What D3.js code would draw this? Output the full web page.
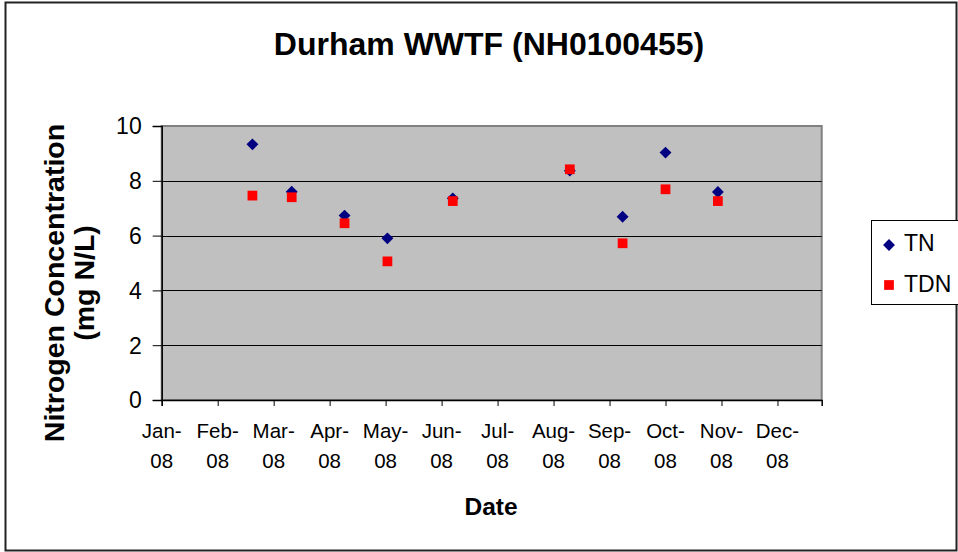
<!DOCTYPE html>
<html>
<head>
<meta charset="utf-8">
<script src="https://cdn.jsdelivr.net/npm/d3@7"></script>
<style>
  body { margin: 0; background: #fff; }
  svg text { font-family: "Liberation Sans", Arial, sans-serif; fill: #000; }
</style>
</head>
<body>
<svg id="chart" width="958" height="552"></svg>
<script>
////////// dados
const sampleDates = ['2008-02-19','2008-03-11','2008-04-09','2008-05-02','2008-06-07','2008-08-10','2008-09-08','2008-10-01','2008-10-30'];
const tnValues  = [9.33, 7.60, 6.73, 5.90, 7.36, 8.37, 6.69, 9.03, 7.59];
const tdnValues = [7.46, 7.40, 6.45, 5.06, 7.26, 8.42, 5.72, 7.69, 7.26];
const monthLabels = ['Jan','Feb','Mar','Apr','May','Jun','Jul','Aug','Sep','Oct','Nov','Dec'];
const yTicks = [0, 2, 4, 6, 8, 10];

// posicao em meses (eixo do Excel tem meses igualmente espacados)
function monthPos(s) {
  const d = new Date(s + 'T00:00:00');
  const dim = new Date(d.getFullYear(), d.getMonth() + 1, 0).getDate();
  return d.getMonth() + (d.getDate() - 1) / dim;
}

const svg = d3.select('#chart');

const plot = { left: 161.7, right: 821.7, top: 126, bottom: 400 };

let x = d3.scaleLinear()
  .domain([0, 11.79])
  .range([plot.left, plot.right]);

let y = d3.scaleLinear()
  .domain([0, 10])
  .range([plot.bottom, plot.top]);

// moldura externa
svg.append('rect')
  .attr('x', 5.5).attr('y', 2.5)
  .attr('width', 951).attr('height', 548)
  .attr('fill', '#fff')
  .attr('stroke', '#222')
  .attr('stroke-width', 2);

// area do grafico
svg.append('rect')
  .attr('x', plot.left).attr('y', plot.top)
  .attr('width', plot.right - plot.left).attr('height', plot.bottom - plot.top)
  .attr('fill', '#c0c0c0')
  .attr('stroke', '#808080')
  .attr('stroke-width', 2);

// linhas de grade
svg.append('g')
  .selectAll('line')
  .data(yTicks.filter(v => v > 0 && v < 10))
  .join('line')
  .attr('x1', plot.left).attr('x2', plot.right)
  .attr('y1', d => Math.round(y(d)) + 0.5).attr('y2', d => Math.round(y(d)) + 0.5)
  .attr('stroke', '#000')
  .attr('stroke-width', 1);

// eixo y
const yAxis = svg.append('g')
  .attr('transform', `translate(${plot.left},0)`)
  .call(d3.axisLeft(y).tickValues(yTicks).tickSize(9).tickPadding(11));
yAxis.select('.domain').attr('stroke', '#000').attr('stroke-width', 1.5);
yAxis.selectAll('.tick line').attr('stroke', '#000');
yAxis.selectAll('.tick text')
  .attr('font-size', 23)
  .attr('dy', '0.34em');

// eixo x
const xAxis = svg.append('g')
  .attr('transform', `translate(0,${plot.bottom})`)
  .call(d3.axisBottom(x).tickValues(d3.range(12)).tickSize(6).tickFormat(''));
xAxis.select('.domain').attr('stroke', '#000').attr('stroke-width', 1.5);
xAxis.selectAll('.tick line').attr('stroke', '#000');

const xLabels = svg.append('g')
  .selectAll('text')
  .data(monthLabels)
  .join('text')
  .attr('x', (d, i) => x(i))
  .attr('text-anchor', 'middle')
  .attr('font-size', 20.5);
xLabels.append('tspan').attr('x', (d, i) => x(i)).attr('y', 438).text(d => d + '-');
xLabels.append('tspan').attr('x', (d, i) => x(i)).attr('y', 468).text('08');

// titulos
svg.append('text')
  .attr('x', 489).attr('y', 54.5)
  .attr('text-anchor', 'middle')
  .attr('font-size', 32)
  .attr('font-weight', 'bold')
  .text('Durham WWTF (NH0100455)');

svg.append('text')
  .attr('x', 491).attr('y', 515)
  .attr('text-anchor', 'middle')
  .attr('font-size', 24.5)
  .attr('font-weight', 'bold')
  .text('Date');

const yTitle = svg.append('text')
  .attr('transform', 'translate(63.5,283) rotate(-90)')
  .attr('text-anchor', 'middle')
  .attr('font-size', 28.5)
  .attr('font-weight', 'bold');
yTitle.append('tspan').attr('x', 0).attr('y', 0).text('Nitrogen Concentration');
yTitle.append('tspan').attr('x', 0).attr('y', 30).text('(mg N/L)');

// series
const symDiamond = d3.symbol().type(d3.symbolDiamond2).size(90);
const symSquare = d3.symbol().type(d3.symbolSquare2).size(121);

svg.append('g')
  .selectAll('path')
  .data(sampleDates)
  .join('path')
  .attr('transform', (d, i) => `translate(${x(monthPos(d))},${y(tnValues[i])})`)
  .attr('d', symDiamond)
  .attr('fill', '#000080');

svg.append('g')
  .selectAll('path')
  .data(sampleDates)
  .join('path')
  .attr('transform', (d, i) => `translate(${x(monthPos(d))},${y(tdnValues[i])})`)
  .attr('d', symSquare)
  .attr('fill', '#ff0000');

// legenda
const legend = svg.append('g');
legend.append('rect')
  .attr('x', 871.5).attr('y', 220.5)
  .attr('width', 90).attr('height', 84)
  .attr('fill', '#fff')
  .attr('stroke', '#000')
  .attr('stroke-width', 1);
legend.append('path')
  .attr('transform', 'translate(889,245)')
  .attr('d', symDiamond)
  .attr('fill', '#000080');
legend.append('path')
  .attr('transform', 'translate(889,285)')
  .attr('d', symSquare)
  .attr('fill', '#ff0000');
legend.append('text').attr('x', 904).attr('y', 251).attr('font-size', 23).text('TN');
legend.append('text').attr('x', 904).attr('y', 292).attr('font-size', 23).text('TDN');
</script>
</body>
</html>
